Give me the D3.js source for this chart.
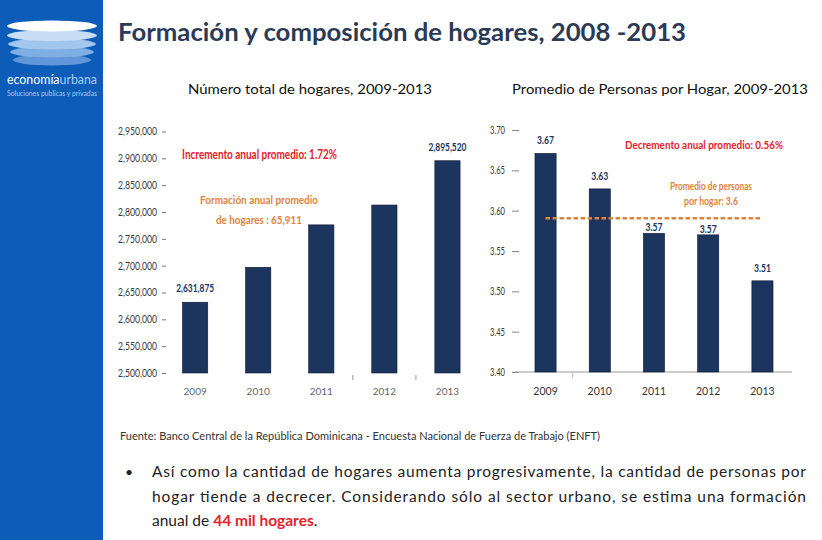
<!DOCTYPE html>
<html>
<head>
<meta charset="utf-8">
<script src="https://cdn.jsdelivr.net/npm/d3@7"></script>
<style>
  html, body { margin: 0; padding: 0; background: #ffffff; }
  svg { display: block; font-family: Lato, "Open Sans", "Noto Sans", sans-serif; }
</style>
</head>
<body>
<svg id="chart" width="822" height="540"></svg>
<script>
// ---- data ----
const years = ["2009", "2010", "2011", "2012", "2013"];
const households = [2631875, 2697000, 2776000, 2813000, 2895520];
const householdTicks = [2500000, 2550000, 2600000, 2650000, 2700000, 2750000, 2800000, 2850000, 2900000, 2950000];
const householdLabels = ["2,631,875", null, null, null, "2,895,520"];
const personsPerHousehold = [3.671, 3.627, 3.572, 3.570, 3.513];
const personsLabels = ["3.67", "3.63", "3.57", "3.57", "3.51"];
const personsTicks = [3.40, 3.45, 3.50, 3.55, 3.60, 3.65, 3.70];
const personsAverage = 3.5906;

const title = "Formación y composición de hogares, 2008 -2013";
const leftTitle = "Número total de hogares, 2009-2013";
const rightTitle = "Promedio de Personas por Hogar, 2009-2013";
const leftNote1 = "Incremento anual promedio: 1.72%";
const leftNote2 = ["Formación anual promedio", "de hogares : 65,911"];
const rightNote1 = "Decremento anual promedio: 0.56%";
const rightNote2 = ["Promedio de personas", "por hogar: 3.6"];
const source = "Fuente: Banco Central de la República Dominicana - Encuesta Nacional de Fuerza de Trabajo (ENFT)";
const bulletLines = [
  "Así como la cantidad de hogares aumenta progresivamente, la cantidad de personas por",
  "hogar tiende a decrecer. Considerando sólo al sector urbano, se estima una formación"
];

const NAVY = "#1c355e", RED = "#e3222b", ORANGE = "#e0843a", TITLE = "#2b3a55";
const svg = d3.select("#chart");

// ---- sidebar & logo ----
svg.append("rect").attr("x", 0).attr("y", 0).attr("width", 103).attr("height", 540).attr("fill", "#0d5db8");
const logoEllipses = [
  {cy: 60, rx: 39, fill: "#5f97d8"},
  {cy: 52, rx: 42, fill: "#7eaee3"},
  {cy: 44, rx: 44, fill: "#a2c6ee"},
  {cy: 35.5, rx: 45, fill: "#c8def6"},
  {cy: 26, rx: 45, fill: "#ffffff"}
];
svg.append("g").selectAll("ellipse").data(logoEllipses).join("ellipse")
  .attr("cx", 52).attr("cy", d => d.cy).attr("rx", d => d.rx).attr("ry", 5.5).attr("fill", d => d.fill);
const logoText = svg.append("text").attr("x", 7).attr("y", 84).attr("font-size", 12.5)
  .attr("textLength", 90).attr("lengthAdjust", "spacingAndGlyphs");
logoText.append("tspan").attr("fill", "#ffffff").text("economía");
logoText.append("tspan").attr("fill", "#a8cbf2").text("urbana");
svg.append("text").attr("x", 7).attr("y", 96).attr("font-size", 7).attr("fill", "#a8c8ee")
  .attr("textLength", 90).attr("lengthAdjust", "spacingAndGlyphs").text("Soluciones publicas y privadas");

// ---- titles ----
svg.append("text").attr("x", 118).attr("y", 41).attr("font-size", 25).attr("font-weight", "bold")
  .attr("fill", TITLE).attr("textLength", 568).attr("lengthAdjust", "spacingAndGlyphs").text(title);
svg.append("text").attr("x", 188).attr("y", 94).attr("font-size", 13.5).attr("fill", "#111")
  .attr("textLength", 244).attr("lengthAdjust", "spacingAndGlyphs").text(leftTitle);
svg.append("text").attr("x", 512).attr("y", 94).attr("font-size", 13.5).attr("fill", "#111")
  .attr("textLength", 296).attr("lengthAdjust", "spacingAndGlyphs").text(rightTitle);

// ---- left chart ----
const xL = d3.scaleBand().domain(years).range([163.6, 479]).paddingInner(0.6).paddingOuter(0.3);
const yL = d3.scaleLinear().domain([2500000, 2950000]).range([373, 131.5]);

const axL = svg.append("g").attr("transform", "translate(166,0)")
  .call(d3.axisLeft(yL).tickValues(householdTicks).tickSize(4).tickPadding(5).tickFormat(d3.format(",")));
axL.select(".domain").remove();
axL.selectAll("line").attr("stroke", "#777");
axL.selectAll("text").attr("font-size", 10.5).attr("fill", "#3a3a3a").attr("font-family", "Lato, sans-serif")
  .attr("textLength", 39).attr("lengthAdjust", "spacingAndGlyphs");

svg.append("g").selectAll("rect").data(years).join("rect")
  .attr("x", d => xL(d)).attr("width", xL.bandwidth())
  .attr("y", (d, i) => yL(households[i])).attr("height", (d, i) => yL(2500000) - yL(households[i]))
  .attr("fill", NAVY).attr("stroke", "#0d1a30").attr("stroke-width", 0.6);

svg.append("g").selectAll("text").data(years).join("text")
  .attr("x", d => xL(d) + xL.bandwidth() / 2).attr("y", 395).attr("text-anchor", "middle")
  .attr("font-size", 10).attr("fill", "#666").text(d => d);

// small separators between categories
svg.append("g").selectAll("line").data(["2012", "2013"]).join("line")
  .attr("x1", d => xL(d) - xL.step() * xL.paddingInner() / 2)
  .attr("x2", d => xL(d) - xL.step() * xL.paddingInner() / 2)
  .attr("y1", 375).attr("y2", 380).attr("stroke", "#999").attr("stroke-width", 1);

svg.append("g").selectAll("text").data(years.filter((d, i) => householdLabels[i]))
  .join("text")
  .attr("x", d => xL(d) + xL.bandwidth() / 2)
  .attr("y", d => yL(households[years.indexOf(d)]) - 10)
  .attr("text-anchor", "middle").attr("font-size", 11).attr("font-weight", "bold").attr("fill", NAVY)
  .attr("textLength", 38).attr("lengthAdjust", "spacingAndGlyphs")
  .text(d => householdLabels[years.indexOf(d)]);

svg.append("text").attr("x", 182).attr("y", 159).attr("font-size", 12.5).attr("font-weight", "bold")
  .attr("fill", RED).attr("textLength", 155).attr("lengthAdjust", "spacingAndGlyphs").text(leftNote1);
svg.append("text").attr("x", 200).attr("y", 204).attr("font-size", 12).attr("font-weight", "bold")
  .attr("fill", ORANGE).attr("textLength", 118).attr("lengthAdjust", "spacingAndGlyphs").text(leftNote2[0]);
svg.append("text").attr("x", 216).attr("y", 224).attr("font-size", 12).attr("font-weight", "bold")
  .attr("fill", ORANGE).attr("textLength", 86).attr("lengthAdjust", "spacingAndGlyphs").text(leftNote2[1]);

// ---- right chart ----
const xR = d3.scaleBand().domain(years).range([516, 792]).paddingInner(0.61).paddingOuter(0.35);
const yR = d3.scaleLinear().domain([3.40, 3.70]).range([372, 130]);

const axR = svg.append("g").attr("transform", "translate(519,0)")
  .call(d3.axisLeft(yR).tickValues(personsTicks).tickSize(7).tickPadding(7).tickFormat(d3.format(".2f")));
axR.select(".domain").remove();
axR.selectAll("line").attr("stroke", "#888");
axR.selectAll("text").attr("font-size", 10.5).attr("fill", "#3a3a3a").attr("font-family", "Lato, sans-serif")
  .attr("textLength", 15).attr("lengthAdjust", "spacingAndGlyphs");

svg.append("line").attr("x1", 515).attr("x2", 792).attr("y1", yR(3.40)).attr("y2", yR(3.40))
  .attr("stroke", "#999").attr("stroke-width", 1);
svg.append("line")
  .attr("x1", xR("2010") - xR.step() * xR.paddingInner() / 2)
  .attr("x2", xR("2010") - xR.step() * xR.paddingInner() / 2)
  .attr("y1", 373).attr("y2", 378).attr("stroke", "#bbb");

svg.append("g").selectAll("rect").data(years).join("rect")
  .attr("x", d => xR(d)).attr("width", xR.bandwidth())
  .attr("y", (d, i) => yR(personsPerHousehold[i])).attr("height", (d, i) => yR(3.40) - yR(personsPerHousehold[i]))
  .attr("fill", NAVY).attr("stroke", "#0d1a30").attr("stroke-width", 0.6);

svg.append("g").selectAll("text").data(years).join("text")
  .attr("x", d => xR(d) + xR.bandwidth() / 2).attr("y", 395).attr("text-anchor", "middle")
  .attr("font-size", 10.5).attr("fill", "#333").text(d => d);

svg.append("g").selectAll("text").data(years).join("text")
  .attr("x", d => xR(d) + xR.bandwidth() / 2)
  .attr("y", (d, i) => yR(personsPerHousehold[i]) - (i === 2 || i === 3 ? 2 : 9))
  .attr("text-anchor", "middle").attr("font-size", 11).attr("font-weight", "bold").attr("fill", NAVY)
  .attr("textLength", 17).attr("lengthAdjust", "spacingAndGlyphs")
  .text((d, i) => personsLabels[i]);

svg.append("line")
  .attr("x1", xR("2009") + xR.bandwidth() / 2).attr("x2", xR("2013") + xR.bandwidth() / 2)
  .attr("y1", yR(personsAverage)).attr("y2", yR(personsAverage))
  .attr("stroke", ORANGE).attr("stroke-width", 2.5).attr("stroke-dasharray", "4.5,2.5");

svg.append("text").attr("x", 625).attr("y", 149).attr("font-size", 11.8).attr("font-weight", "bold")
  .attr("fill", RED).attr("textLength", 158).attr("lengthAdjust", "spacingAndGlyphs").text(rightNote1);
svg.append("text").attr("x", 711).attr("y", 190).attr("text-anchor", "middle").attr("font-size", 10.5)
  .attr("font-weight", "bold").attr("fill", ORANGE)
  .attr("textLength", 82).attr("lengthAdjust", "spacingAndGlyphs").text(rightNote2[0]);
svg.append("text").attr("x", 711).attr("y", 205).attr("text-anchor", "middle").attr("font-size", 10.5)
  .attr("font-weight", "bold").attr("fill", ORANGE)
  .attr("textLength", 54).attr("lengthAdjust", "spacingAndGlyphs").text(rightNote2[1]);

// ---- footer ----
svg.append("text").attr("x", 120).attr("y", 440).attr("font-size", 10.5).attr("fill", "#333")
  .attr("textLength", 480).attr("lengthAdjust", "spacingAndGlyphs").text(source);

svg.append("text").attr("x", 125).attr("y", 477).attr("font-size", 14).attr("fill", "#222").text("•");
svg.append("text").attr("x", 152).attr("y", 477).attr("font-size", 15.5).attr("fill", "#222")
  .attr("textLength", 654).attr("lengthAdjust", "spacing").text(bulletLines[0]);
svg.append("text").attr("x", 152).attr("y", 502).attr("font-size", 15.5).attr("fill", "#222")
  .attr("textLength", 654).attr("lengthAdjust", "spacing").text(bulletLines[1]);
const last = svg.append("text").attr("x", 152).attr("y", 526).attr("font-size", 15.5).attr("fill", "#222");
last.append("tspan").text("anual de ");
last.append("tspan").attr("fill", RED).attr("font-weight", "bold").text("44 mil hogares");
last.append("tspan").text(".");
</script>
</body>
</html>
